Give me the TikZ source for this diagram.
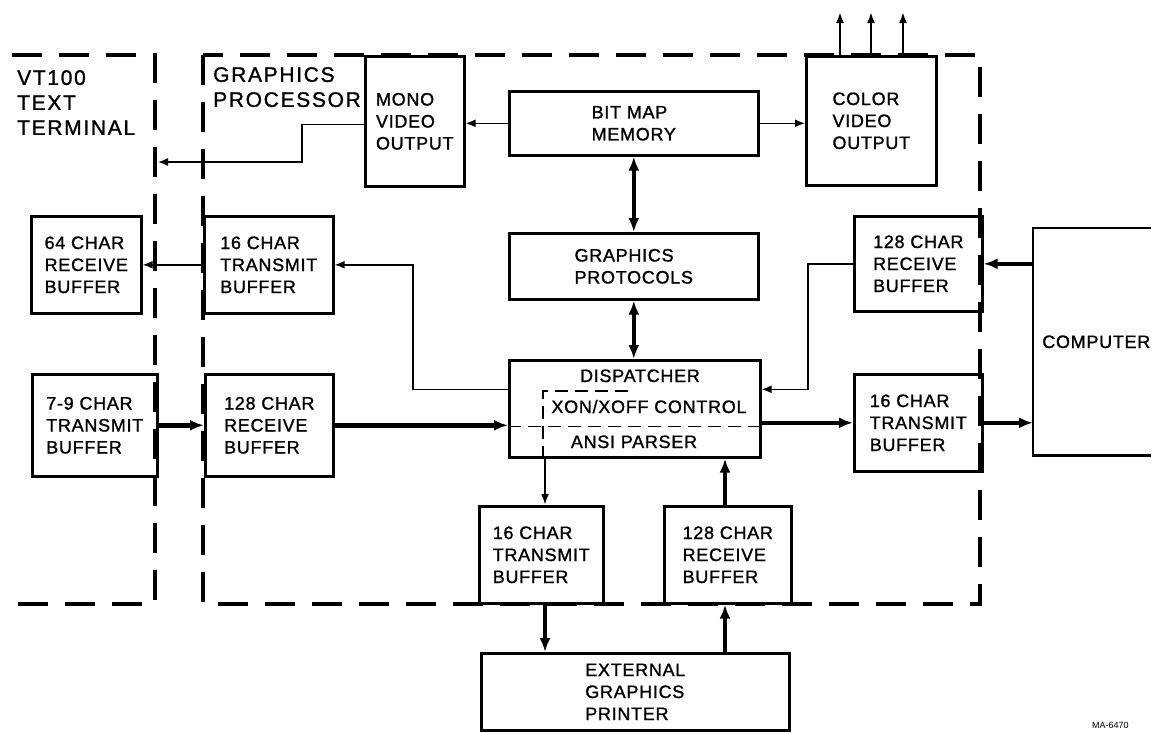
\documentclass[tikz,border=0pt]{standalone}
\usepackage{fontspec}
\setmainfont{Liberation Sans}
\newfontfamily\bxf[LetterSpace=4,FakeBold=1.2]{Liberation Sans}
\newfontfamily\lbf[LetterSpace=8,FakeBold=1.2]{Liberation Sans}
\usetikzlibrary{arrows.meta,calc}
\begin{document}
\begin{tikzpicture}[x=1pt,y=-1pt,
 box/.style={draw, line width=2.6pt, anchor=north west, align=left, inner sep=0pt, font=\bxf\fontsize{18}{22}\selectfont},
 lbl/.style={anchor=north west, align=left, inner sep=0pt, font=\lbf\fontsize{21}{25}\selectfont},
 txt/.style={anchor=base, inner sep=0pt, font=\bxf\fontsize{18}{22}\selectfont},
 frame/.style={line width=4pt, dash pattern=on 30pt off 17pt},
 innerdash/.style={line width=1.6pt, dash pattern=on 13pt off 7pt},
 thinarrow/.style={line width=1.6pt, -{Latex[length=10pt,width=8pt]}},
 medarrow/.style={line width=2.6pt, -{Latex[length=11pt,width=8pt]}},
 thickarrow/.style={line width=4.5pt, -{Latex[length=14pt,width=11pt]}},
 dblarrow/.style={line width=4.5pt, {Latex[length=14pt,width=11pt]}-{Latex[length=14pt,width=11pt]}}
]
\useasboundingbox (0,0) rectangle (1159,732);

% dashed frames
\coordinate (v1) at (12,55);
\coordinate (v2) at (155,55);
\coordinate (v3) at (155,604);
\coordinate (v4) at (12,604);
\draw[frame] (v1) -- (v2) -- (v3) -- (v4);
\coordinate (g1) at (203,55);
\coordinate (g2) at (980,604);
\draw[frame] (g1) rectangle (g2);

% labels
\node[lbl] (vt) at (17,70) {VT100\\TEXT\\TERMINAL};
\node[lbl] (gp) at (213,67) {GRAPHICS\\PROCESSOR};

% boxes
\node[box, minimum width=99pt, minimum height=130pt] (mono) at (364,55) {MONO\\VIDEO\\OUTPUT};
\node[box, minimum width=249pt, minimum height=64pt] (bitmap) at (508,90) {BIT MAP\\MEMORY};
\node[box, minimum width=130pt, minimum height=129pt] (color) at (805,55) {COLOR\\VIDEO\\OUTPUT};
\node[box, minimum width=249pt, minimum height=66pt] (proto) at (508,232) {GRAPHICS\\PROTOCOLS};
\node[box, minimum width=251pt, minimum height=97pt] (disp) at (508,359) {};
\node[box, minimum width=129pt, minimum height=97pt] (tx1) at (203,215) {16 CHAR\\TRANSMIT\\BUFFER};
\node[box, minimum width=110pt, minimum height=97pt] (rx64) at (30,215) {64 CHAR\\RECEIVE\\BUFFER};
\node[box, minimum width=125pt, minimum height=102pt] (tx79) at (31,373) {7-9 CHAR\\TRANSMIT\\BUFFER};
\node[box, minimum width=128pt, minimum height=102pt] (rx1) at (204,373) {128 CHAR\\RECEIVE\\BUFFER};
\node[box, minimum width=128pt, minimum height=95pt] (rx2) at (853,215) {128 CHAR\\RECEIVE\\BUFFER};
\node[box, minimum width=128pt, minimum height=97pt] (tx2) at (853,373) {16 CHAR\\TRANSMIT\\BUFFER};
\node[box, minimum width=124pt, minimum height=97pt] (tx3) at (478,505) {16 CHAR\\TRANSMIT\\BUFFER};
\node[box, minimum width=127pt, minimum height=97pt] (rx3) at (663,505) {128 CHAR\\RECEIVE\\BUFFER};
\node[box, minimum width=308pt, minimum height=77pt] (prn) at (480,652) {EXTERNAL\\GRAPHICS\\PRINTER};
\node[box, draw=none, minimum width=124pt, minimum height=225pt] (comp) at (1033,228) {COMPUTER};
\draw[line width=2.6pt] ([xshift=-9pt]comp.north east) -- (comp.north west) -- (comp.south west) -- ([xshift=-9pt]comp.south east);

% dispatcher contents
\node[txt] (t1) at (640,382) {DISPATCHER};
\node[txt] (t2) at (649,413) {XON/XOFF CONTROL};
\node[txt] (t3) at (634,448) {ANSI PARSER};
\draw[innerdash] ([yshift=-17.5pt]disp.west) -- ([yshift=-17.5pt]disp.east);
\coordinate (xa) at (543,391);
\coordinate (xb) at (635,391);
\draw[innerdash] (xa |- disp.south) -- (xa) -- (xb);

% connectors
\coordinate (vtin) at (158,162);
\coordinate (m1) at (302,140);
\draw[thinarrow] ([yshift=-3pt]mono.west) -| (m1) |- (vtin);
\draw[thinarrow] (bitmap.west) -- (bitmap.west -| mono.east);
\draw[thinarrow] (bitmap.east) -- (bitmap.east -| color.west);
\coordinate (o1) at (840,12);
\coordinate (o2) at (871,12);
\coordinate (o3) at (903,12);
\foreach \o in {o1,o2,o3} \draw[medarrow] (\o |- color.north) -- (\o);
\draw[dblarrow] (bitmap.south) -- (proto.north);
\draw[dblarrow] (proto.south) -- (proto.south |- disp.north);
\coordinate (b1) at (413,320);
\draw[thinarrow] ([yshift=19.5pt]disp.west) -| (b1) |- (tx1.east);
\draw[thinarrow] (tx1.west) -- (tx1.west -| rx64.east);
\draw[thickarrow] (tx79.east) -- (rx1.west);
\draw[thickarrow] (rx1.east) -- (rx1.east -| disp.west);
\draw[thickarrow] (tx2.west -| disp.east) -- (tx2.west);
\draw[thickarrow] (tx2.east) -- (tx2.east -| comp.west);
\draw[thickarrow] (rx2.east -| comp.west) -- (rx2.east);
\coordinate (b2) at (808,320);
\draw[thinarrow] (rx2.west) -| (b2) |- ([yshift=19.5pt]disp.east);
\coordinate (c1) at (545,0);
\coordinate (c2) at (725,0);
\draw[medarrow] (c1 |- disp.south) -- (c1 |- tx3.north);
\draw[thickarrow] (c1 |- tx3.south) -- (c1 |- prn.north);
\draw[thickarrow] (c2 |- prn.north) -- (c2 |- rx3.south);
\draw[thickarrow] (c2 |- rx3.north) -- (c2 |- disp.south);

\node[anchor=north west, inner sep=0pt, font=\fontsize{9}{10}\selectfont] (ma) at (1092,722) {MA-6470};
\end{tikzpicture}
\end{document}
